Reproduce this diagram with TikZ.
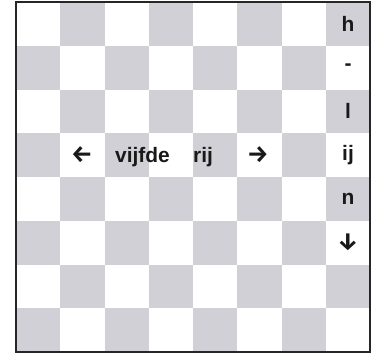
\documentclass[tikz,border=0pt]{standalone}
\usepackage{fontspec}
\setmainfont{Liberation Sans}
\newfontfamily\arrowfont{Fira Sans}
\definecolor{sq}{RGB}{208,208,214}
\tikzset{
  lbl/.style={font=\bfseries\fontsize{21}{21}\selectfont, text=black!90, inner sep=0pt, anchor=center},
  arr/.style={font=\arrowfont\bfseries\fontsize{24}{24}\selectfont, text=black!90, inner sep=0pt, anchor=center},
  darksq/.style={fill=sq, draw=none},
}
\begin{document}
\begin{tikzpicture}[x=1bp,y=-1bp]
\useasboundingbox (0,0) rectangle (375,354);
\fill[white] (0,0) rectangle (375,354);
\def\L{16}\def\T{2}\def\W{44.25}\def\H{43.75}
\foreach \r in {0,...,7}{
  \foreach \c in {0,...,7}{
    \pgfmathtruncatemacro{\parity}{mod(\r+\c,2)}
    \ifnum\parity=1
      \fill[darksq] ({\L+\c*\W},{\T+\r*\H}) rectangle ({\L+(\c+1)*\W},{\T+(\r+1)*\H});
    \fi
  }
}
\draw[line width=1.4bp, black!85] (\L,\T) rectangle (370,352);
% right column letters
\node[lbl] (h) at (348,{\T+0.5*\H}) {h};
\node[lbl] (dash) at (348,{\T+1.5*\H}) {-};
\node[lbl] (l) at (348,{\T+2.5*\H}) {l};
\node[lbl] (ij) at (348,{\T+3.5*\H}) {ij};
\node[lbl] (n) at (348,{\T+4.5*\H}) {n};
\node[arr] (down) at (348,{\T+5.5*\H}) {↓};
% fifth row
\node[arr] (left) at (82,{\T+3.5*\H}) {←};
\node[lbl, anchor=base west] (vijfde) at (115,{\T+3.5*\H+7.5}) {vijfde};
\node[lbl, anchor=base west] (rij) at (193,{\T+3.5*\H+7.5}) {rij};
\node[arr] (right) at (258,{\T+3.5*\H}) {→};
\end{tikzpicture}
\end{document}
